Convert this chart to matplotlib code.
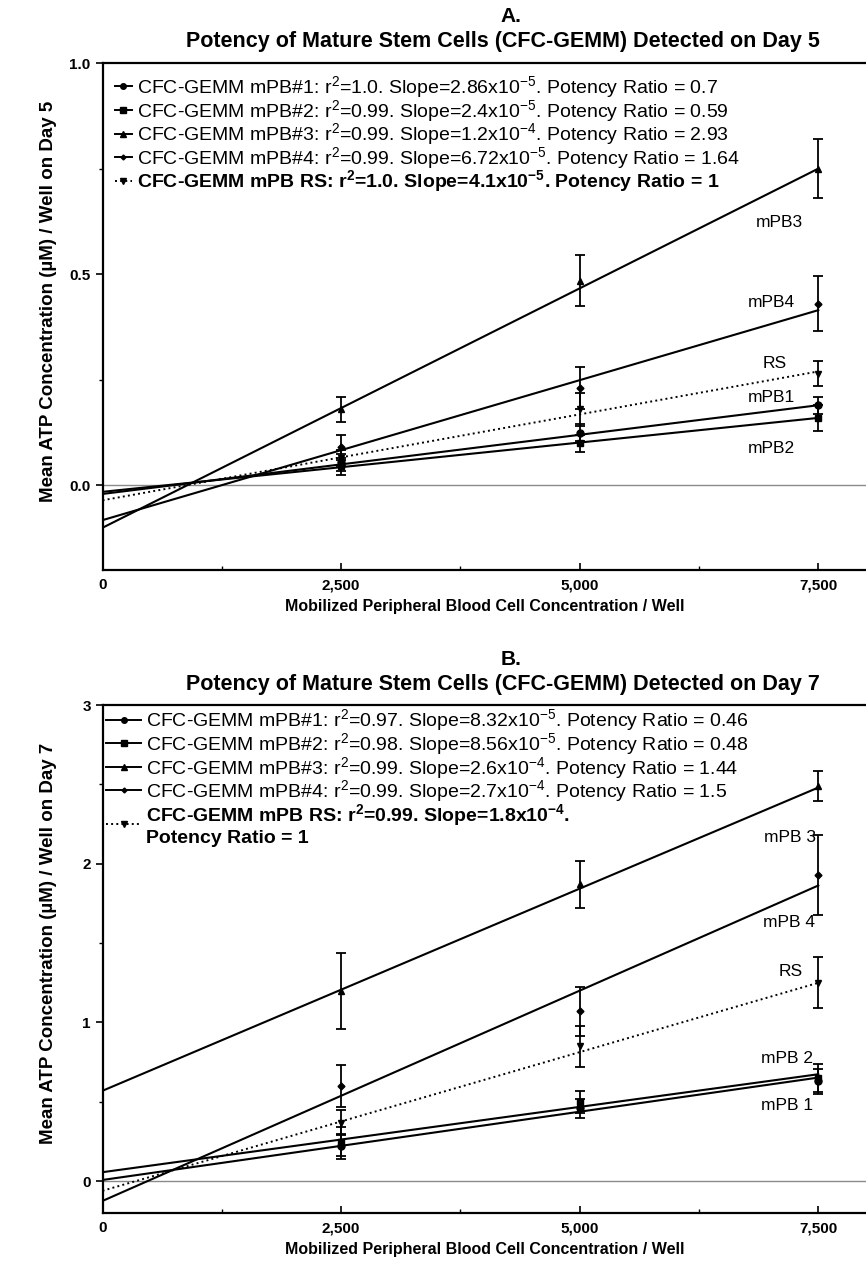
import matplotlib
matplotlib.use("Agg")
import matplotlib.pyplot as plt
from matplotlib.ticker import MultipleLocator, FuncFormatter

plt.rcParams['font.family'] = ['Liberation Sans Narrow', 'Liberation Sans', 'DejaVu Sans']
plt.rcParams['mathtext.fontset'] = 'custom'
plt.rcParams['mathtext.rm'] = 'Liberation Sans'
plt.rcParams['mathtext.bf'] = 'Liberation Sans:bold'
plt.rcParams['mathtext.default'] = 'regular'

# ---- data ----
cells = [2500, 5000, 7500]
fit_x = [0, 7500]

# order: mPB1, mPB2, mPB3, mPB4, RS
d5_means = [[0.055, 0.125, 0.19],
            [0.045, 0.10, 0.16],
            [0.18, 0.485, 0.75],
            [0.09, 0.23, 0.43],
            [0.065, 0.18, 0.265]]
d5_errs = [[0.02, 0.02, 0.02],
           [0.02, 0.02, 0.03],
           [0.03, 0.06, 0.07],
           [0.03, 0.05, 0.065],
           [0.02, 0.04, 0.03]]
d5_fit = [[-0.02, 0.19],
          [-0.015, 0.16],
          [-0.10, 0.75],
          [-0.082, 0.415],
          [-0.035, 0.27]]

d7_means = [[0.22, 0.46, 0.63],
            [0.25, 0.50, 0.65],
            [1.20, 1.87, 2.49],
            [0.60, 1.07, 1.93],
            [0.37, 0.85, 1.25]]
d7_errs = [[0.08, 0.06, 0.08],
           [0.09, 0.07, 0.09],
           [0.24, 0.15, 0.095],
           [0.13, 0.155, 0.25],
           [0.08, 0.13, 0.16]]
d7_fit = [[0.008, 0.653],
          [0.057, 0.674],
          [0.57, 2.48],
          [-0.124, 1.863],
          [-0.06, 1.25]]

d5_labels = [
    r"CFC-GEMM mPB#1: r$^{2}$=1.0. Slope=2.86x10$^{-5}$. Potency Ratio = 0.7",
    r"CFC-GEMM mPB#2: r$^{2}$=0.99. Slope=2.4x10$^{-5}$. Potency Ratio = 0.59",
    r"CFC-GEMM mPB#3: r$^{2}$=0.99. Slope=1.2x10$^{-4}$. Potency Ratio = 2.93",
    r"CFC-GEMM mPB#4: r$^{2}$=0.99. Slope=6.72x10$^{-5}$. Potency Ratio = 1.64",
    r"CFC-GEMM mPB RS: r$^{2}$=1.0. Slope=4.1x10$^{-5}$. Potency Ratio = 1",
]
d7_labels = [
    r"CFC-GEMM mPB#1: r$^{2}$=0.97. Slope=8.32x10$^{-5}$. Potency Ratio = 0.46",
    r"CFC-GEMM mPB#2: r$^{2}$=0.98. Slope=8.56x10$^{-5}$. Potency Ratio = 0.48",
    r"CFC-GEMM mPB#3: r$^{2}$=0.99. Slope=2.6x10$^{-4}$. Potency Ratio = 1.44",
    r"CFC-GEMM mPB#4: r$^{2}$=0.99. Slope=2.7x10$^{-4}$. Potency Ratio = 1.5",
    "CFC-GEMM mPB RS: r$^{2}$=0.99. Slope=1.8x10$^{-4}$.\nPotency Ratio = 1",
]

d5_tags = ["mPB1", "mPB2", "mPB3", "mPB4", "RS"]
d5_tag_pos = [(7013, 0.208), (7013, 0.087), (7087, 0.622), (7013, 0.433), (7045, 0.288)]
d7_tags = ["mPB 1", "mPB 2", "mPB 3", "mPB 4", "RS"]
d7_tag_pos = [(7170, 0.479), (7170, 0.775), (7202, 2.168), (7192, 1.632), (7212, 1.323)]

markers = ["o", "s", "^", "D", "v"]
msizes = [5, 5, 5, 3.5, 5]
styles = ["-", "-", "-", "-", ":"]


def thousands(v, pos):
    return f"{int(v):,}"


def draw_panel(ax, means, errs, fits, labels, tags, tag_pos, ylim, ymajor,
               yfmt, ylabel, handlelen, anchor):
    ax.axhline(0, color="#8a8a8a", lw=1.0, zorder=1)
    handles = []
    for i in range(5):
        ax.errorbar(cells, means[i], yerr=errs[i], fmt=markers[i], ms=msizes[i],
                    color="black", ecolor="black", elinewidth=1.3, capsize=3.5,
                    capthick=1.3, zorder=3)
        ax.plot(fit_x, fits[i], ls=styles[i], color="black",
                lw=1.5 if styles[i] == "-" else 1.4, zorder=2)
        handles.append(plt.Line2D([], [], ls=styles[i], color="black", lw=1.4,
                                  marker=markers[i], ms=msizes[i] - 1))
    for t, (tx, ty) in zip(tags, tag_pos):
        ax.text(tx, ty, t, fontsize=12.5, ha="center", va="center")

    leg = ax.legend(handles, labels, loc="upper left", bbox_to_anchor=anchor,
                    frameon=False, fontsize=14, handlelength=handlelen,
                    handletextpad=0.25, labelspacing=-0.12, borderpad=0,
                    borderaxespad=0)
    for txt in leg.get_texts()[4:]:
        txt.set_fontweight("bold")

    ax.set_xlim(0, 8000)
    ax.set_ylim(*ylim)
    ax.xaxis.set_major_locator(MultipleLocator(2500))
    ax.xaxis.set_minor_locator(MultipleLocator(1250))
    ax.xaxis.set_major_formatter(FuncFormatter(thousands))
    ax.yaxis.set_major_locator(MultipleLocator(ymajor))
    ax.yaxis.set_minor_locator(MultipleLocator(ymajor / 2))
    ax.yaxis.set_major_formatter(FuncFormatter(yfmt))
    ax.tick_params(axis="x", direction="in", length=5, width=1.2, labelsize=11, pad=6)
    ax.tick_params(axis="x", which="minor", direction="in", length=3, width=1)
    ax.tick_params(axis="y", direction="out", length=5, width=1.2, labelsize=11)
    ax.tick_params(axis="y", which="minor", direction="out", length=3, width=1)
    for lab in ax.get_xticklabels() + ax.get_yticklabels():
        lab.set_fontweight("bold")
    ax.spines["right"].set_visible(False)
    for s in ["left", "bottom", "top"]:
        ax.spines[s].set_linewidth(1.6)
    ax.set_xlabel("Mobilized Peripheral Blood Cell Concentration / Well",
                  fontsize=11.5, fontweight="bold", labelpad=5)
    ax.set_ylabel(ylabel, fontsize=13.5, fontweight="bold")
    ax.yaxis.set_label_coords(-0.06, 0.53)


fig = plt.figure(figsize=(8.66, 12.63), dpi=100)
axA = fig.add_axes([0.1184, 0.5487, 0.8816, 0.4014])
axB = fig.add_axes([0.1184, 0.0396, 0.8816, 0.4022])

draw_panel(axA, d5_means, d5_errs, d5_fit, d5_labels, d5_tags, d5_tag_pos,
           (-0.2, 1.0), 0.5, lambda v, p: f"{v:.1f}",
           "Mean ATP Concentration (µM) / Well on Day 5", 0.9, (0.016, 0.978))
draw_panel(axB, d7_means, d7_errs, d7_fit, d7_labels, d7_tags, d7_tag_pos,
           (-0.2, 3.0), 1.0, lambda v, p: f"{v:.0f}",
           "Mean ATP Concentration (µM) / Well on Day 7", 1.8, (0.005, 0.995))

fig.text(0.59, 0.987, "A.", ha="center", va="center", fontsize=15, fontweight="bold")
fig.text(0.581, 0.967, "Potency of Mature Stem Cells (CFC-GEMM) Detected on Day 5",
         ha="center", va="center", fontsize=15.5, fontweight="bold")
fig.text(0.59, 0.478, "B.", ha="center", va="center", fontsize=15, fontweight="bold")
fig.text(0.581, 0.458, "Potency of Mature Stem Cells (CFC-GEMM) Detected on Day 7",
         ha="center", va="center", fontsize=15.5, fontweight="bold")

fig.savefig("out.png", dpi=100)
